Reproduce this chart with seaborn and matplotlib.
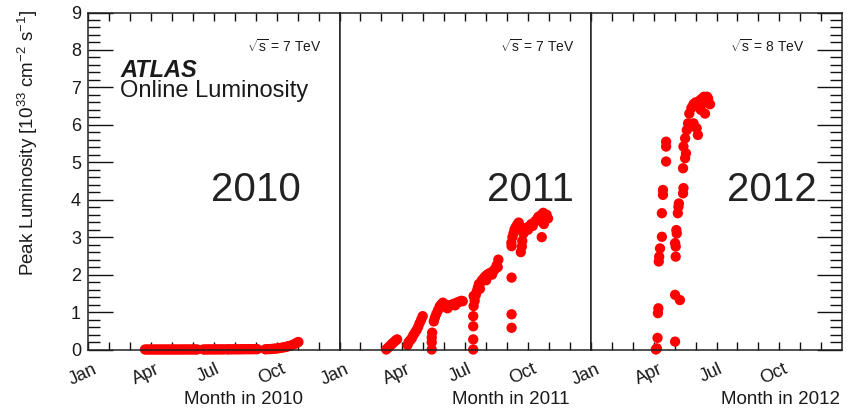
import matplotlib
matplotlib.use("Agg")
import matplotlib.pyplot as plt
import matplotlib.transforms as mtransforms
from matplotlib.ticker import MultipleLocator
import pandas as pd
import seaborn as sns

# ---------------- data ----------------
years = ["2010", "2011", "2012"]
energies = ["7", "7", "8"]
month_ticklabels = ["Jan", "", "", "Apr", "", "", "Jul", "", "", "Oct", "", ""]

month_2010 = [2.72, 2.82, 2.92, 3.02, 3.12, 3.22, 3.32, 3.42, 3.52, 3.62, 3.72, 3.82, 3.92,
              4.02, 4.12, 4.22, 4.32, 4.42, 4.52, 4.62, 4.72, 4.82, 4.92, 5.02, 5.12, 5.21,
              5.50, 5.60, 5.70, 5.80, 5.90, 6.00, 6.10, 6.20, 6.30, 6.40, 6.50, 6.64,
              6.69, 6.80, 6.90, 7.00, 7.10, 7.20, 7.30, 7.40, 7.50, 7.60, 7.70, 7.80, 7.90, 8.00, 8.08,
              8.46, 8.56, 8.66, 8.76, 8.86, 8.96, 9.06, 9.16, 9.26, 9.36, 9.46, 9.56, 9.66, 9.76, 9.86, 9.96, 10.04]
lumi_2010 = [0.0, 0.0, 0.0, 0.0, 0.0, 0.0, 0.0, 0.0, 0.0, 0.0, 0.0, 0.0, 0.0,
             0.0, 0.0, 0.0, 0.0, 0.0, 0.001, 0.001, 0.001, 0.001, 0.001, 0.001, 0.001, 0.001,
             0.001, 0.001, 0.002, 0.002, 0.002, 0.002, 0.002, 0.003, 0.003, 0.003, 0.003, 0.004,
             0.004, 0.004, 0.005, 0.005, 0.005, 0.006, 0.006, 0.007, 0.007, 0.008, 0.008, 0.009, 0.009, 0.010, 0.010,
             0.005, 0.010, 0.010, 0.015, 0.020, 0.025, 0.030, 0.040, 0.050, 0.060, 0.070, 0.090, 0.100, 0.120, 0.150, 0.180, 0.200]

month_2011 = [2.23, 2.30, 2.38, 2.45, 2.52, 2.60, 2.68, 2.75,
              3.25, 3.30, 3.38, 3.45, 3.52, 3.60, 3.68, 3.75, 3.82, 3.90, 3.97,
              4.40, 4.40, 4.42, 4.40,
              4.50, 4.55, 4.62, 4.70, 4.78, 4.85, 4.93, 5.00, 5.08, 5.15, 5.22, 5.30, 5.38, 5.45, 5.52, 5.60, 5.68, 5.75, 5.82, 5.88,
              6.38, 6.38, 6.38, 6.38, 6.40, 6.40,
              6.45, 6.50, 6.55, 6.60, 6.65, 6.70, 6.75, 6.80, 6.88, 6.95, 7.00, 7.05, 7.12, 7.20, 7.28, 7.35, 7.42, 7.50, 7.55, 7.58,
              8.21, 8.21, 8.21, 8.21,
              8.20, 8.25, 8.30, 8.35, 8.40, 8.45, 8.50, 8.55, 8.60, 8.65, 8.70, 8.72, 8.78, 8.85, 8.92, 9.00, 9.08, 9.15, 9.22, 9.30,
              9.38, 9.45, 9.50, 9.57, 9.65, 9.72, 9.80, 9.88, 9.95, 9.65, 9.75]
lumi_2011 = [0.00, 0.04, 0.08, 0.12, 0.16, 0.20, 0.24, 0.27,
             0.12, 0.20, 0.25, 0.30, 0.38, 0.45, 0.52, 0.60, 0.70, 0.80, 0.89,
             0.00, 0.19, 0.45, 0.32,
             0.75, 0.85, 0.95, 1.05, 1.15, 1.20, 1.25, 1.15, 1.20, 1.10, 1.15, 1.18, 1.20, 1.22, 1.18, 1.25, 1.27, 1.28, 1.30, 1.29,
             0.00, 0.27, 0.62, 0.89, 1.16, 1.43,
             1.30, 1.45, 1.55, 1.65, 1.75, 1.62, 1.80, 1.85, 1.90, 1.95, 1.85, 2.00, 2.02, 2.05, 2.00, 2.10, 2.15, 2.25, 2.20, 2.40,
             0.58, 0.94, 1.92, 2.76,
             2.85, 3.00, 3.10, 3.20, 3.25, 3.30, 3.35, 3.39, 3.30, 2.60, 2.75, 2.90, 3.10, 3.20, 3.25, 3.20, 3.30, 3.35, 3.30, 3.40,
             3.45, 3.50, 3.55, 3.45, 3.60, 3.65, 3.55, 3.60, 3.50, 3.00, 3.35]

month_2012 = [3.10, 3.15, 3.18, 3.20, 3.22, 3.24, 3.26, 3.30, 3.39, 3.39, 3.44, 3.44, 3.59, 3.59, 3.59,
              4.02, 4.02, 4.25, 4.05, 4.05, 4.02, 4.10, 4.08, 4.15, 4.18, 4.20, 4.40, 4.42,
              4.40, 4.50, 4.54, 4.42, 4.50, 4.58, 4.64, 4.73, 4.90, 5.05, 5.11,
              4.70, 4.80, 4.90, 5.00, 5.10, 5.20, 5.30, 5.40, 5.50, 5.60, 5.69, 5.25, 5.45, 5.55]
lumi_2012 = [0.00, 0.03, 0.31, 0.97, 1.10, 2.35, 2.48, 2.70, 3.01, 3.64, 4.13, 4.26, 5.02, 5.42, 5.55,
             0.21, 1.46, 1.32, 2.48, 2.75, 2.84, 3.10, 3.19, 3.64, 3.81, 3.90, 4.17, 4.31,
             4.84, 5.11, 5.24, 5.42, 5.64, 5.86, 6.04, 5.95, 6.04, 5.91, 5.73,
             6.30, 6.45, 6.55, 6.60, 6.50, 6.65, 6.70, 6.75, 6.60, 6.70, 6.55, 6.40, 6.30, 6.75]

months = [month_2010, month_2011, month_2012]
lumis = [lumi_2010, lumi_2011, lumi_2012]

# ---------------- style ----------------
sns.set_style("ticks")
plt.rcParams["font.family"] = ["Liberation Sans", "DejaVu Sans"]
plt.rcParams["mathtext.fontset"] = "custom"
plt.rcParams["mathtext.rm"] = "Liberation Sans"
plt.rcParams["mathtext.it"] = "Liberation Sans:italic"
plt.rcParams["mathtext.bf"] = "Liberation Sans:bold"
plt.rcParams["axes.axisbelow"] = False
TXT = "#1a1a1a"
TICKC = "#111111"

W, H = 849, 409
fig = plt.figure(figsize=(W / 100, H / 100), dpi=100)

x_edges = [88, 339.5, 591, 842]
y_bot, y_top = 349.5, 12.5

axes = []
for i in range(3):
    x0, x1 = x_edges[i], x_edges[i + 1]
    ax = fig.add_axes([x0 / W, 1 - y_bot / H, (x1 - x0) / W, (y_bot - y_top) / H])
    axes.append(ax)
    df = pd.DataFrame({"month": months[i], "lumi": lumis[i]})
    sns.scatterplot(data=df, x="month", y="lumi", ax=ax, s=55, color="#ff0000",
                    edgecolor="none", linewidth=0, legend=False, zorder=3, clip_on=False)
    ax.set_xlim(0, 12)
    ax.set_ylim(0, 9)
    ax.set_xlabel("")
    ax.set_ylabel("")
    for sp in ax.spines.values():
        sp.set_visible(True)
        sp.set_linewidth(1.1)
        sp.set_color("#222222")
        sp.set_zorder(5)

    ax.set_xticks(range(12))
    ax.set_xticklabels(month_ticklabels)
    ax.tick_params(axis="x", which="major", direction="in", length=6, width=1.0,
                   top=True, bottom=True, labelsize=13, pad=8, labelrotation=25,
                   color=TICKC, labelcolor=TXT)
    offset = mtransforms.ScaledTranslation(-5 / 100, 0, fig.dpi_scale_trans)
    for lbl in ax.get_xticklabels():
        lbl.set_transform(lbl.get_transform() + offset)

    ax.yaxis.set_major_locator(MultipleLocator(1))
    ax.yaxis.set_minor_locator(MultipleLocator(0.2))
    if i == 0:
        ax.tick_params(axis="y", which="both", direction="in", left=True, right=False,
                       labelleft=True, labelsize=13, pad=5, color=TICKC, labelcolor=TXT)
    elif i == 2:
        ax.tick_params(axis="y", which="both", direction="in", left=False, right=True,
                       labelleft=False, labelright=False, color=TICKC)
    else:
        ax.tick_params(axis="y", which="both", left=False, right=False,
                       labelleft=False, labelright=False)
    ax.tick_params(axis="y", which="major", length=18, width=1.0)
    ax.tick_params(axis="y", which="minor", length=8.6, width=1.0)

# year labels (in data coordinates of each panel)
year_x = [8.03, 9.13, 8.65]
for ax, yr, xx in zip(axes, years, year_x):
    ax.text(xx, 4.26, yr, fontsize=29, color="#222222", ha="center", va="center", zorder=4)

# sqrt(s) labels (figure pixel positions, right aligned)
sqrt_right = [322, 575, 805]
for e, xr in zip(energies, sqrt_right):
    fig.text(xr / W, 1 - 47 / H, r"$\sqrt{\mathrm{s}}$ = " + e + " TeV", fontsize=10,
             color=TXT, ha="right", va="center")

# ATLAS labels
fig.text(120 / W, 1 - 77 / H, "ATLAS", fontsize=17, fontweight="bold", style="italic",
         color=TXT, ha="left", va="baseline")
fig.text(120 / W, 1 - 97 / H, "Online Luminosity", fontsize=17, color=TXT,
         ha="left", va="baseline")

# axis titles
xlabel_right = [303, 570, 840]
for yr, xr in zip(years, xlabel_right):
    fig.text(xr / W, 1 - 404 / H, "Month in " + yr, fontsize=13.5, color=TXT,
             ha="right", va="baseline")

fig.text(28 / W, 1 - 10 / H, r"Peak Luminosity [10$^{33}$ cm$^{-2}$ s$^{-1}$]",
         rotation=90, fontsize=13.5, color=TXT, ha="center", va="top")

fig.savefig("out.png", dpi=100, facecolor="white")
